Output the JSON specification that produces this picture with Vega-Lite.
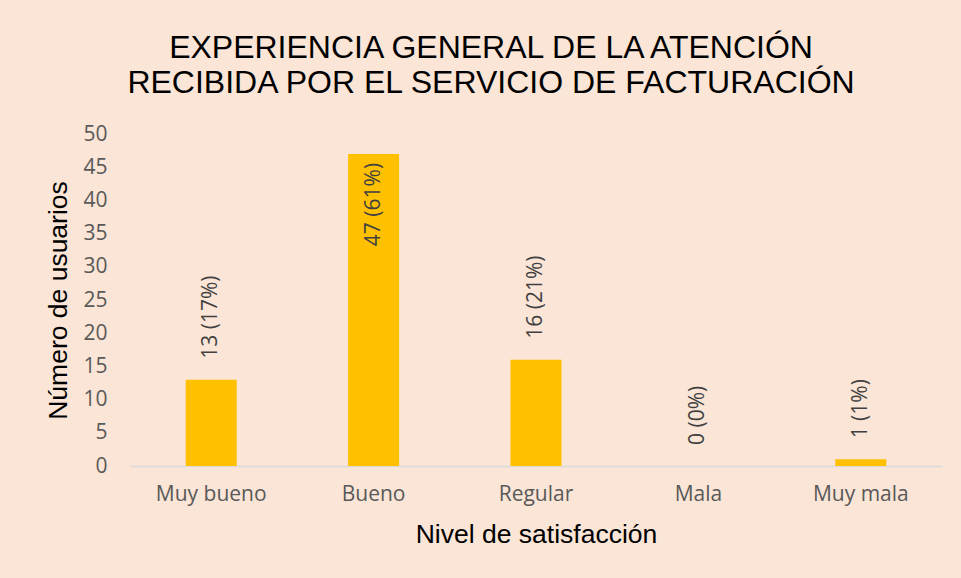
{
  "$schema": "https://vega.github.io/schema/vega-lite/v6.json",
  "width": 812,
  "height": 332,
  "autosize": {"type": "none"},
  "padding": {"left": 130, "top": 134, "right": 19, "bottom": 112},
  "background": "#FBE5D6",
  "config": {"view": {"stroke": null}},
  "title": {
    "text": ["EXPERIENCIA GENERAL DE LA ATENCIÓN", "RECIBIDA POR EL SERVICIO DE FACTURACIÓN"],
    "font": "Liberation Sans",
    "fontSize": 32,
    "fontWeight": "normal",
    "color": "#000000",
    "anchor": "middle",
    "dx": -45,
    "offset": 23,
    "lineHeight": 35
  },
  "data": {
    "values": [
      {"nivel": "Muy bueno", "usuarios": 13, "etiqueta": "13 (17%)"},
      {"nivel": "Bueno", "usuarios": 47, "etiqueta": "47 (61%)"},
      {"nivel": "Regular", "usuarios": 16, "etiqueta": "16 (21%)"},
      {"nivel": "Mala", "usuarios": 0, "etiqueta": "0 (0%)"},
      {"nivel": "Muy mala", "usuarios": 1, "etiqueta": "1 (1%)"}
    ]
  },
  "encoding": {
    "x": {
      "field": "nivel",
      "type": "nominal",
      "sort": null,
      "scale": {"paddingInner": 0.686, "paddingOuter": 0.343},
      "axis": {
        "title": "Nivel de satisfacción",
        "labelAngle": 0,
        "labelFont": "Open Sans",
        "labelFontSize": 21,
        "labelColor": "#595959",
        "labelPadding": 17,
        "ticks": false,
        "domainColor": "#D9D9D9",
        "domainWidth": 1.5,
        "titleFont": "Liberation Sans",
        "titleFontSize": 26.5,
        "titleFontWeight": "normal",
        "titleColor": "#000000",
        "titlePadding": 17
      }
    },
    "y": {
      "field": "usuarios",
      "type": "quantitative",
      "scale": {"domain": [0, 50], "nice": false},
      "axis": {
        "title": "Número de usuarios",
        "values": [0, 5, 10, 15, 20, 25, 30, 35, 40, 45, 50],
        "grid": false,
        "domain": false,
        "ticks": false,
        "labelFont": "Open Sans",
        "labelFontSize": 21,
        "labelColor": "#595959",
        "labelPadding": 23,
        "titleFont": "Liberation Sans",
        "titleFontSize": 26.5,
        "titleFontWeight": "normal",
        "titleColor": "#000000",
        "titlePadding": 10
      }
    }
  },
  "layer": [
    {"mark": {"type": "bar", "color": "#FFC000"}},
    {
      "transform": [{"filter": "datum.usuarios < 40"}],
      "mark": {"type": "text", "angle": -90, "align": "left", "baseline": "middle", "dx": 21, "font": "Open Sans", "fontSize": 21, "color": "#404040"},
      "encoding": {"text": {"field": "etiqueta"}}
    },
    {
      "transform": [{"filter": "datum.usuarios >= 40"}],
      "mark": {"type": "text", "angle": -90, "align": "right", "baseline": "middle", "dx": -9, "font": "Open Sans", "fontSize": 21, "color": "#404040"},
      "encoding": {"text": {"field": "etiqueta"}}
    }
  ]
}
